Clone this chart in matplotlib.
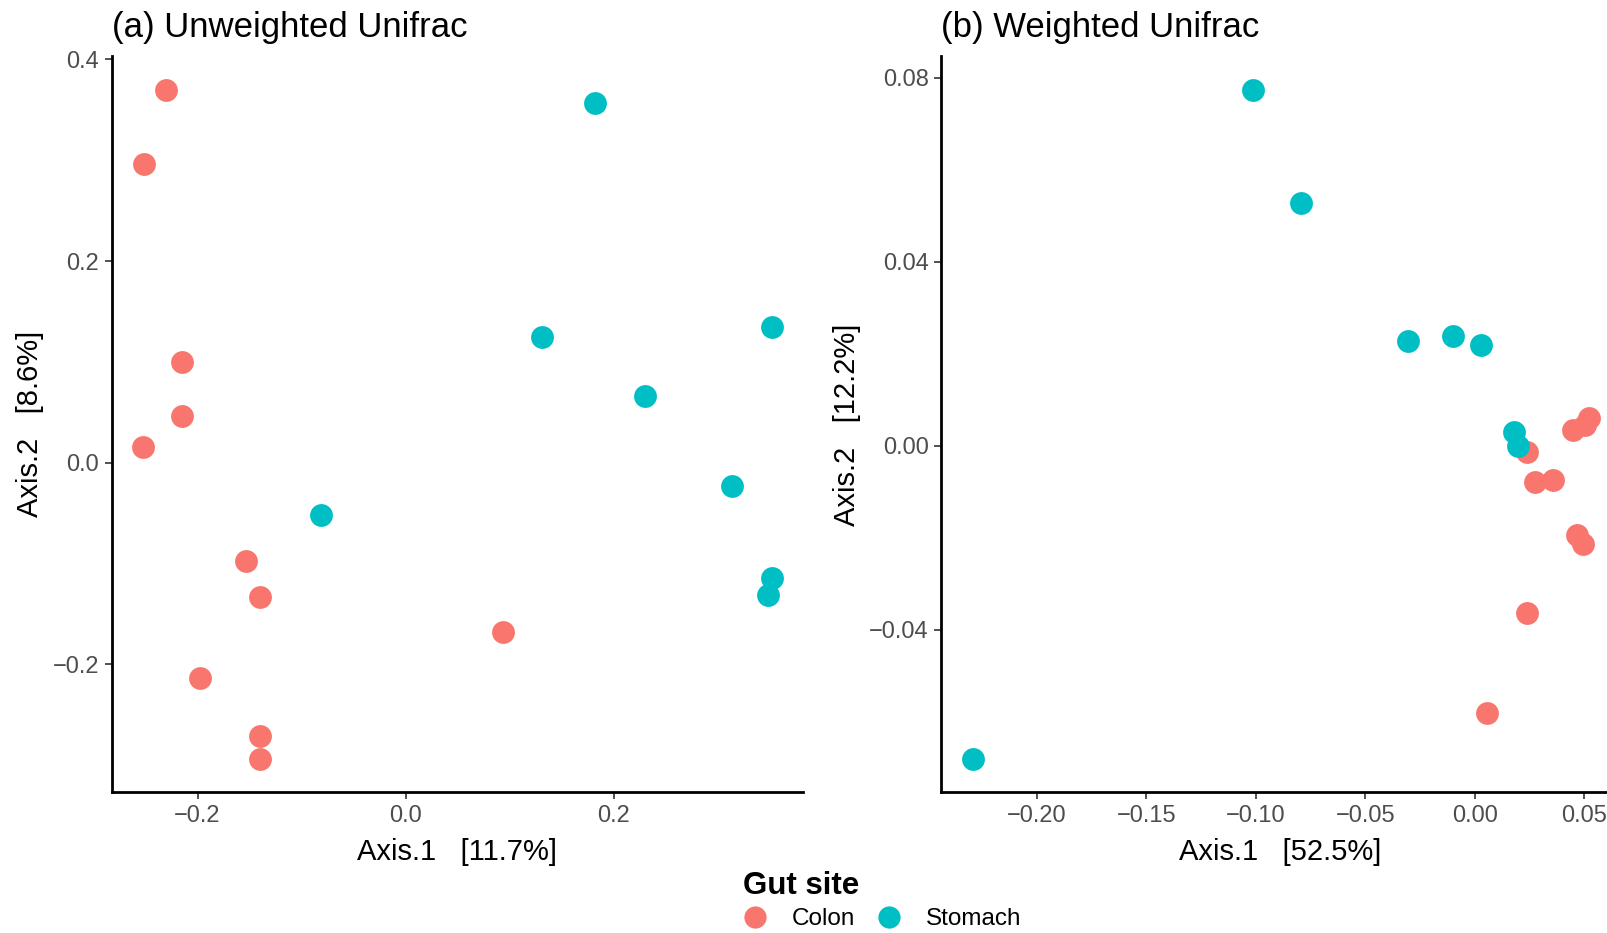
import matplotlib
matplotlib.use('Agg')
import matplotlib.pyplot as plt
from matplotlib.lines import Line2D
import numpy as np

plt.rcParams['font.family'] = ['Liberation Sans', 'DejaVu Sans']

# ---- data -----------------------------------------------------------
groups = ['Colon', 'Stomach']
group_colors = {'Colon': '#F8766D', 'Stomach': '#00BFC4'}

# (a) unweighted unifrac
unw_colon_x = [-0.230, -0.251, -0.215, -0.215, -0.252, -0.153, -0.140, -0.198, -0.140, -0.140, 0.094]
unw_colon_y = [0.370, 0.296, 0.100, 0.046, 0.016, -0.098, -0.133, -0.214, -0.271, -0.294, -0.168]
unw_stom_x = [0.182, 0.131, 0.230, 0.352, 0.314, -0.081, 0.352, 0.348]
unw_stom_y = [0.357, 0.125, 0.066, 0.135, -0.023, -0.052, -0.114, -0.131]

# (b) weighted unifrac
w_colon_x = [0.0236, 0.0449, 0.0502, 0.0521, 0.0274, 0.0355, 0.0464, 0.0495, 0.0239, 0.0056]
w_colon_y = [-0.0014, 0.0035, 0.0044, 0.0060, -0.0078, -0.0074, -0.0193, -0.0214, -0.0364, -0.0580]
w_stom_x = [-0.1014, -0.0794, -0.0308, -0.0098, 0.0028, 0.0178, 0.0198, -0.2294]
w_stom_y = [0.0773, 0.0527, 0.0227, 0.0238, 0.0218, 0.0029, 0.0000, -0.0680]

unw_xticks = [-0.2, 0.0, 0.2]
unw_yticks = [-0.2, 0.0, 0.2, 0.4]
w_xticks = [-0.20, -0.15, -0.10, -0.05, 0.00, 0.05]
w_yticks = [-0.04, 0.00, 0.04, 0.08]

panels = [
    dict(title='(a) Unweighted Unifrac', xlab='Axis.1   [11.7%]', ylab='Axis.2   [8.6%]',
         colon=(unw_colon_x, unw_colon_y), stomach=(unw_stom_x, unw_stom_y),
         xticks=unw_xticks, yticks=unw_yticks, fmt='{:.1f}',
         xlim=(-0.2825, 0.3815), ylim=(-0.327, 0.403),
         pos=[0.0695, 0.1509, 0.4299, 0.7886]),
    dict(title='(b) Weighted Unifrac', xlab='Axis.1   [52.5%]', ylab='Axis.2   [12.2%]',
         colon=(w_colon_x, w_colon_y), stomach=(w_stom_x, w_stom_y),
         xticks=w_xticks, yticks=w_yticks, fmt='{:.2f}',
         xlim=(-0.2438, 0.0658), ylim=(-0.0753, 0.0846),
         pos=[0.5856, 0.1509, 0.4219, 0.7886]),
]

fig = plt.figure(figsize=(16.07, 9.33), dpi=100)

for p in panels:
    ax = fig.add_axes(p['pos'])
    for g, (xs, ys) in zip(groups, [p['colon'], p['stomach']]):
        ax.scatter(xs, ys, s=270, color=group_colors[g], linewidths=0, zorder=3, clip_on=False)
    ax.set_xlim(*p['xlim'])
    ax.set_ylim(*p['ylim'])
    ax.set_xticks(p['xticks'])
    ax.set_yticks(p['yticks'])
    ax.set_xticklabels([p['fmt'].format(v).replace('-', '\u2212') for v in p['xticks']])
    ax.set_yticklabels([p['fmt'].format(v).replace('-', '\u2212') for v in p['yticks']])
    ax.tick_params(length=5, width=1.2, color='#333333', labelcolor='#4D4D4D', labelsize=17, pad=4)
    for side in ['top', 'right']:
        ax.spines[side].set_visible(False)
    for side in ['left', 'bottom']:
        ax.spines[side].set_linewidth(2)
    ax.set_xlabel(p['xlab'], fontsize=21, labelpad=8)
    ax.set_ylabel(p['ylab'], fontsize=21, labelpad=6)
    ax.set_title(p['title'], loc='left', fontsize=25, pad=14)

handles = [Line2D([], [], marker='o', linestyle='', markersize=16,
                  markerfacecolor=group_colors[g], markeredgewidth=0, label=g) for g in groups]
leg = fig.legend(handles=handles, loc='upper left', bbox_to_anchor=(0.4625, 0.0665), ncol=2,
                 frameon=False, title='Gut site', fontsize=17.5, handlelength=1.0,
                 handletextpad=1.0, columnspacing=0.9, alignment='left',
                 borderaxespad=0, borderpad=0, labelspacing=0.3)
leg.get_title().set_fontsize(22.5)
leg.get_title().set_fontweight('bold')

fig.savefig('out.png', dpi=100)
